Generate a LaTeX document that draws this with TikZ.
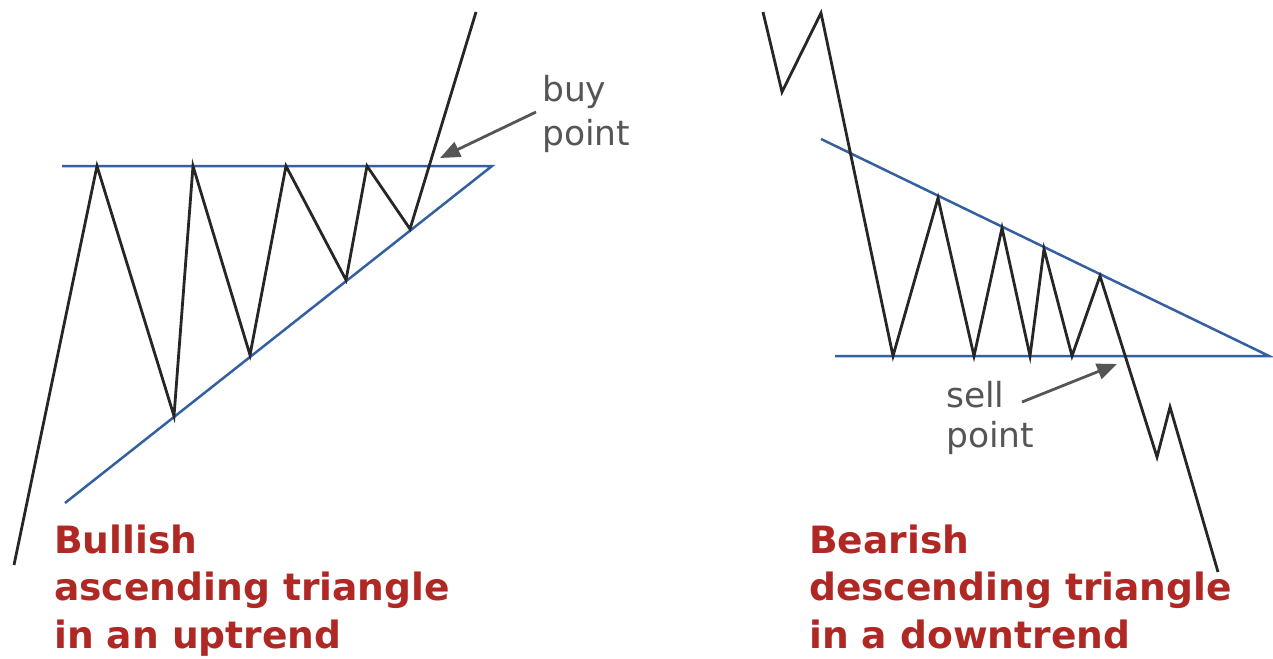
\documentclass[tikz,border=0pt]{standalone}
\usepackage{fontspec}
\setmainfont{DejaVu Sans}
\usetikzlibrary{arrows.meta}
\definecolor{trendblue}{RGB}{52,96,160}
\definecolor{titlered}{RGB}{176,40,36}
\definecolor{notegray}{RGB}{85,85,85}
\tikzset{
  price/.style={line width=2.8pt, black!85, line join=miter},
  trendline/.style={line width=2.5pt, trendblue},
  pointer/.style={line width=2.8pt, notegray, -{Triangle[length=20pt,width=16pt]}},
  note/.style={inner sep=0pt, anchor=base west, text=notegray, font=\fontsize{34.5}{40}\selectfont},
  title/.style={inner sep=0pt, anchor=base west, text=titlered, font=\bfseries\fontsize{37.6}{47}\selectfont},
}
\begin{document}
\begin{tikzpicture}[x=1pt,y=-1pt]
\useasboundingbox (0,0) rectangle (1273,658);
% left: ascending triangle
\draw[trendline] (62,166) -- (492,166) -- (65,503);
\draw[price] (14,565) -- (97,166) -- (174,416) -- (193,166) -- (250,355) -- (286,166) -- (346,280) -- (367,166) -- (410,229) -- (476,12);
\coordinate (buytail) at (536,112);
\coordinate (buyhead) at (440,158);
\draw[pointer] (buytail) -- (buyhead);
\node[note] (buy1) at (542,102) {buy};
\node[note] (buy2) at (542,145) {point};
\node[title] (bull1) at (54,553) {Bullish};
\node[title] (bull2) at (54,600) {ascending triangle};
\node[title] (bull3) at (54,648) {in an uptrend};
% right: descending triangle
\draw[trendline] (835,356) -- (1269,356) -- (821,139);
\draw[price] (763,12) -- (782,92) -- (821,13) -- (893,356) -- (938,198) -- (974,356) -- (1002,228) -- (1030,356) -- (1044,249) -- (1072,356) -- (1100,276) -- (1157,457) -- (1170,407) -- (1218,572);
\coordinate (selltail) at (1022,402);
\coordinate (sellhead) at (1117,364);
\draw[pointer] (selltail) -- (sellhead);
\node[note] (sell1) at (946,407) {sell};
\node[note] (sell2) at (946,447) {point};
\node[title] (bear1) at (809,553) {Bearish};
\node[title] (bear2) at (809,600) {descending triangle};
\node[title] (bear3) at (809,648) {in a downtrend};
\end{tikzpicture}
\end{document}
